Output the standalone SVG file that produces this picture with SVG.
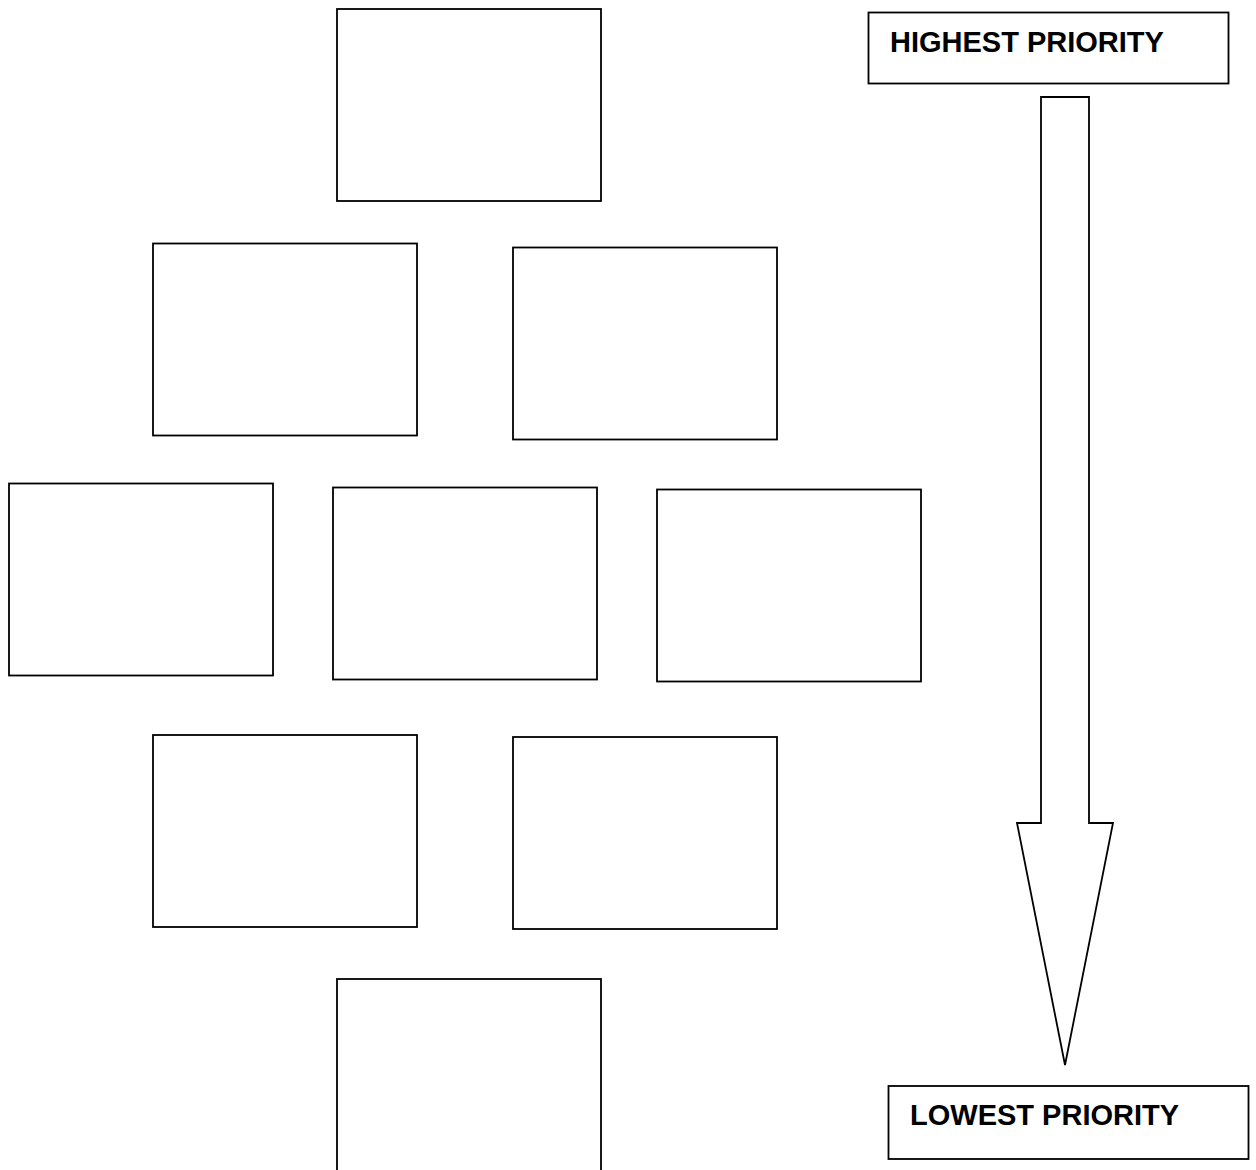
<svg xmlns="http://www.w3.org/2000/svg" width="1256" height="1170" viewBox="0 0 1256 1170">
<style>
.box{fill:#fff;stroke:#000;stroke-width:1.8}
.lbl{font-family:"Liberation Sans",Arial,sans-serif;font-weight:bold;font-size:29px;fill:#000}
</style>
<rect width="1256" height="1170" fill="#fff"/>
<g id="node-top"><rect class="box" x="337" y="9" width="264" height="192"/></g>
<g id="node-r2a"><rect class="box" x="153" y="243.5" width="264" height="192"/></g>
<g id="node-r2b"><rect class="box" x="513" y="247.5" width="264" height="192"/></g>
<g id="node-r3a"><rect class="box" x="9" y="483.5" width="264" height="192"/></g>
<g id="node-r3b"><rect class="box" x="333" y="487.5" width="264" height="192"/></g>
<g id="node-r3c"><rect class="box" x="657" y="489.5" width="264" height="192"/></g>
<g id="node-r4a"><rect class="box" x="153" y="735" width="264" height="192"/></g>
<g id="node-r4b"><rect class="box" x="513" y="737" width="264" height="192"/></g>
<g id="node-bottom"><rect class="box" x="337" y="979" width="264" height="192"/></g>
<g id="node-highest"><rect class="box" x="868.5" y="12.5" width="360" height="71"/><text class="lbl" x="890" y="52">HIGHEST PRIORITY</text></g>
<g id="node-lowest"><rect class="box" x="888.5" y="1086" width="360" height="73"/><text class="lbl" x="910" y="1125">LOWEST PRIORITY</text></g>
<g id="connectors">
<polygon class="box" points="1041,97 1089,97 1089,823 1113,823 1065,1065 1017,823 1041,823"/>
</g>
</svg>
